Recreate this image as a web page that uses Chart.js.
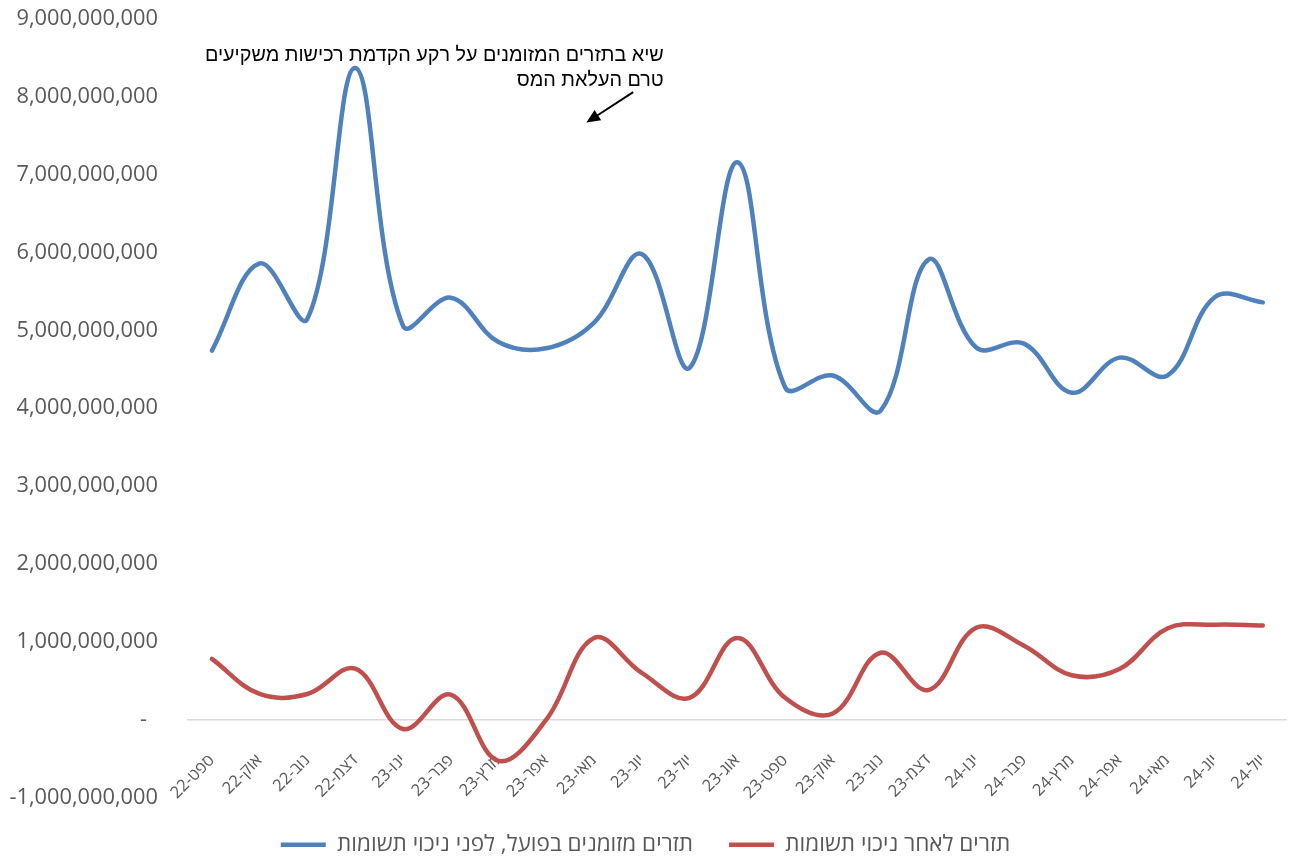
<!DOCTYPE html>
<html lang="he">
<head>
<meta charset="utf-8">
<title>תזרים מזומנים</title>
<script src="https://cdn.jsdelivr.net/npm/chart.js@4.4.1/dist/chart.umd.min.js"></script>
<style>
  html, body { margin: 0; padding: 0; background: #fff; overflow: hidden; }
  #wrap { position: relative; width: 1300px; height: 857px; }
</style>
</head>
<body>
<div id="wrap"><canvas id="cashChart"></canvas></div>
<script>
// months, Sep-22 .. Jul-24
const months = ['ספט-22', 'אוק-22', 'נוב-22', 'דצמ-22', 'ינו-23', 'פבר-23', 'מרץ-23', 'אפר-23',
  'מאי-23', 'יונ-23', 'יול-23', 'אוג-23', 'ספט-23', 'אוק-23', 'נוב-23', 'דצמ-23',
  'ינו-24', 'פבר-24', 'מרץ-24', 'אפר-24', 'מאי-24', 'יונ-24', 'יול-24'];

// actual cash flow before input deductions
const beforeDeduction = [4.74e9, 5.86e9, 5.15e9, 8.37e9, 5.06e9, 5.42e9, 4.85e9, 4.77e9,
  5.10e9, 5.98e9, 4.52e9, 7.16e9, 4.27e9, 4.42e9, 3.97e9, 5.91e9,
  4.78e9, 4.83e9, 4.20e9, 4.65e9, 4.42e9, 5.43e9, 5.36e9];

// cash flow after input deductions
const afterDeduction = [0.78e9, 0.33e9, 0.33e9, 0.655e9, -0.12e9, 0.32e9, -0.53e9, 0.0e9,
  1.05e9, 0.60e9, 0.28e9, 1.05e9, 0.28e9, 0.08e9, 0.86e9, 0.38e9,
  1.18e9, 0.95e9, 0.57e9, 0.65e9, 1.17e9, 1.22e9, 1.21e9];

const seriesNames = ['תזרים מזומנים בפועל, לפני ניכוי תשומות', 'תזרים לאחר ניכוי תשומות'];
const yTicks = { min: -1e9, max: 9e9, step: 1e9 };

const noteLines = ['שיא בתזרים המזומנים על רקע הקדמת רכישות משקיעים', 'טרם העלאת המס'];

Chart.defaults.font.family = "'Open Sans', 'Liberation Sans', sans-serif";
Chart.defaults.color = '#595959';

// callout text + arrow near the Dec-22 spike
const notePlugin = {
  id: 'note',
  afterDraw(chart) {
    const ctx = chart.ctx;
    const x = chart.scales.x, y = chart.scales.y;
    ctx.save();
    ctx.fillStyle = '#000';
    ctx.font = "19.8px 'Liberation Sans', Arial, sans-serif";
    ctx.textAlign = 'right';
    ctx.textBaseline = 'middle';
    const tx = x.getPixelForValue(9.46);
    ctx.fillText(noteLines[0], tx, y.getPixelForValue(8.535e9));
    ctx.fillText(noteLines[1], tx, y.getPixelForValue(8.21e9));

    const x0 = x.getPixelForValue(8.82), y0 = y.getPixelForValue(8.06e9);
    const x1 = x.getPixelForValue(7.84), y1 = y.getPixelForValue(7.67e9);
    const ang = Math.atan2(y1 - y0, x1 - x0);
    const head = 15;
    ctx.strokeStyle = '#000';
    ctx.lineWidth = 2;
    ctx.beginPath();
    ctx.moveTo(x0, y0);
    ctx.lineTo(x1 - Math.cos(ang) * head * 0.8, y1 - Math.sin(ang) * head * 0.8);
    ctx.stroke();
    ctx.beginPath();
    ctx.moveTo(x1, y1);
    ctx.lineTo(x1 - head * Math.cos(ang - 0.42), y1 - head * Math.sin(ang - 0.42));
    ctx.lineTo(x1 - head * Math.cos(ang + 0.42), y1 - head * Math.sin(ang + 0.42));
    ctx.closePath();
    ctx.fill();
    ctx.restore();
  }
};

const ctx = document.getElementById('cashChart').getContext('2d');
new Chart(ctx, {
  type: 'line',
  data: {
    labels: months,
    datasets: [{
      label: seriesNames[0],
      data: beforeDeduction,
      borderColor: '#4F81BD',
      backgroundColor: '#4F81BD',
      borderWidth: 4.5,
      pointRadius: 0,
      tension: 0.38,
      borderCapStyle: 'round'
    }, {
      label: seriesNames[1],
      data: afterDeduction,
      borderColor: '#C0504D',
      backgroundColor: '#C0504D',
      borderWidth: 4.5,
      pointRadius: 0,
      tension: 0.38,
      borderCapStyle: 'round'
    }]
  },
  options: {
    responsive: true,
    maintainAspectRatio: false,
    animation: false,
    layout: { padding: { top: 19, right: 9, left: 0, bottom: -9 } },
    plugins: {
      tooltip: { enabled: false },
      legend: {
        position: 'bottom',
        labels: {
          usePointStyle: true,
          pointStyle: 'line',
          pointStyleWidth: 45,
          boxHeight: 19,
          padding: 36,
          color: '#595959',
          font: { size: 22.5 }
        }
      }
    },
    scales: {
      x: {
        position: { y: 0 },
        offset: true,
        grid: { display: false, offset: true },
        border: { display: true, color: '#D9D9D9', width: 1.5 },
        ticks: {
          autoSkip: false,
          maxRotation: 45,
          minRotation: 45,
          padding: 23,
          color: '#595959',
          font: { size: 16.5 }
        }
      },
      y: {
        min: yTicks.min,
        max: yTicks.max,
        grid: { display: false },
        border: { display: false },
        afterFit(scale) {
          // fixed gutter for the value labels; top edge set by layout padding only
          scale.width = 188;
          scale.paddingTop = 0;
          scale.paddingBottom = 0;
        },
        ticks: {
          stepSize: yTicks.step,
          padding: 22,
          color: '#595959',
          font: { size: 21.8 },
          callback: v => v === 0 ? '-\u2002' : Number(v).toLocaleString('en-US')
        }
      }
    }
  },
  plugins: [notePlugin]
});
</script>
</body>
</html>
